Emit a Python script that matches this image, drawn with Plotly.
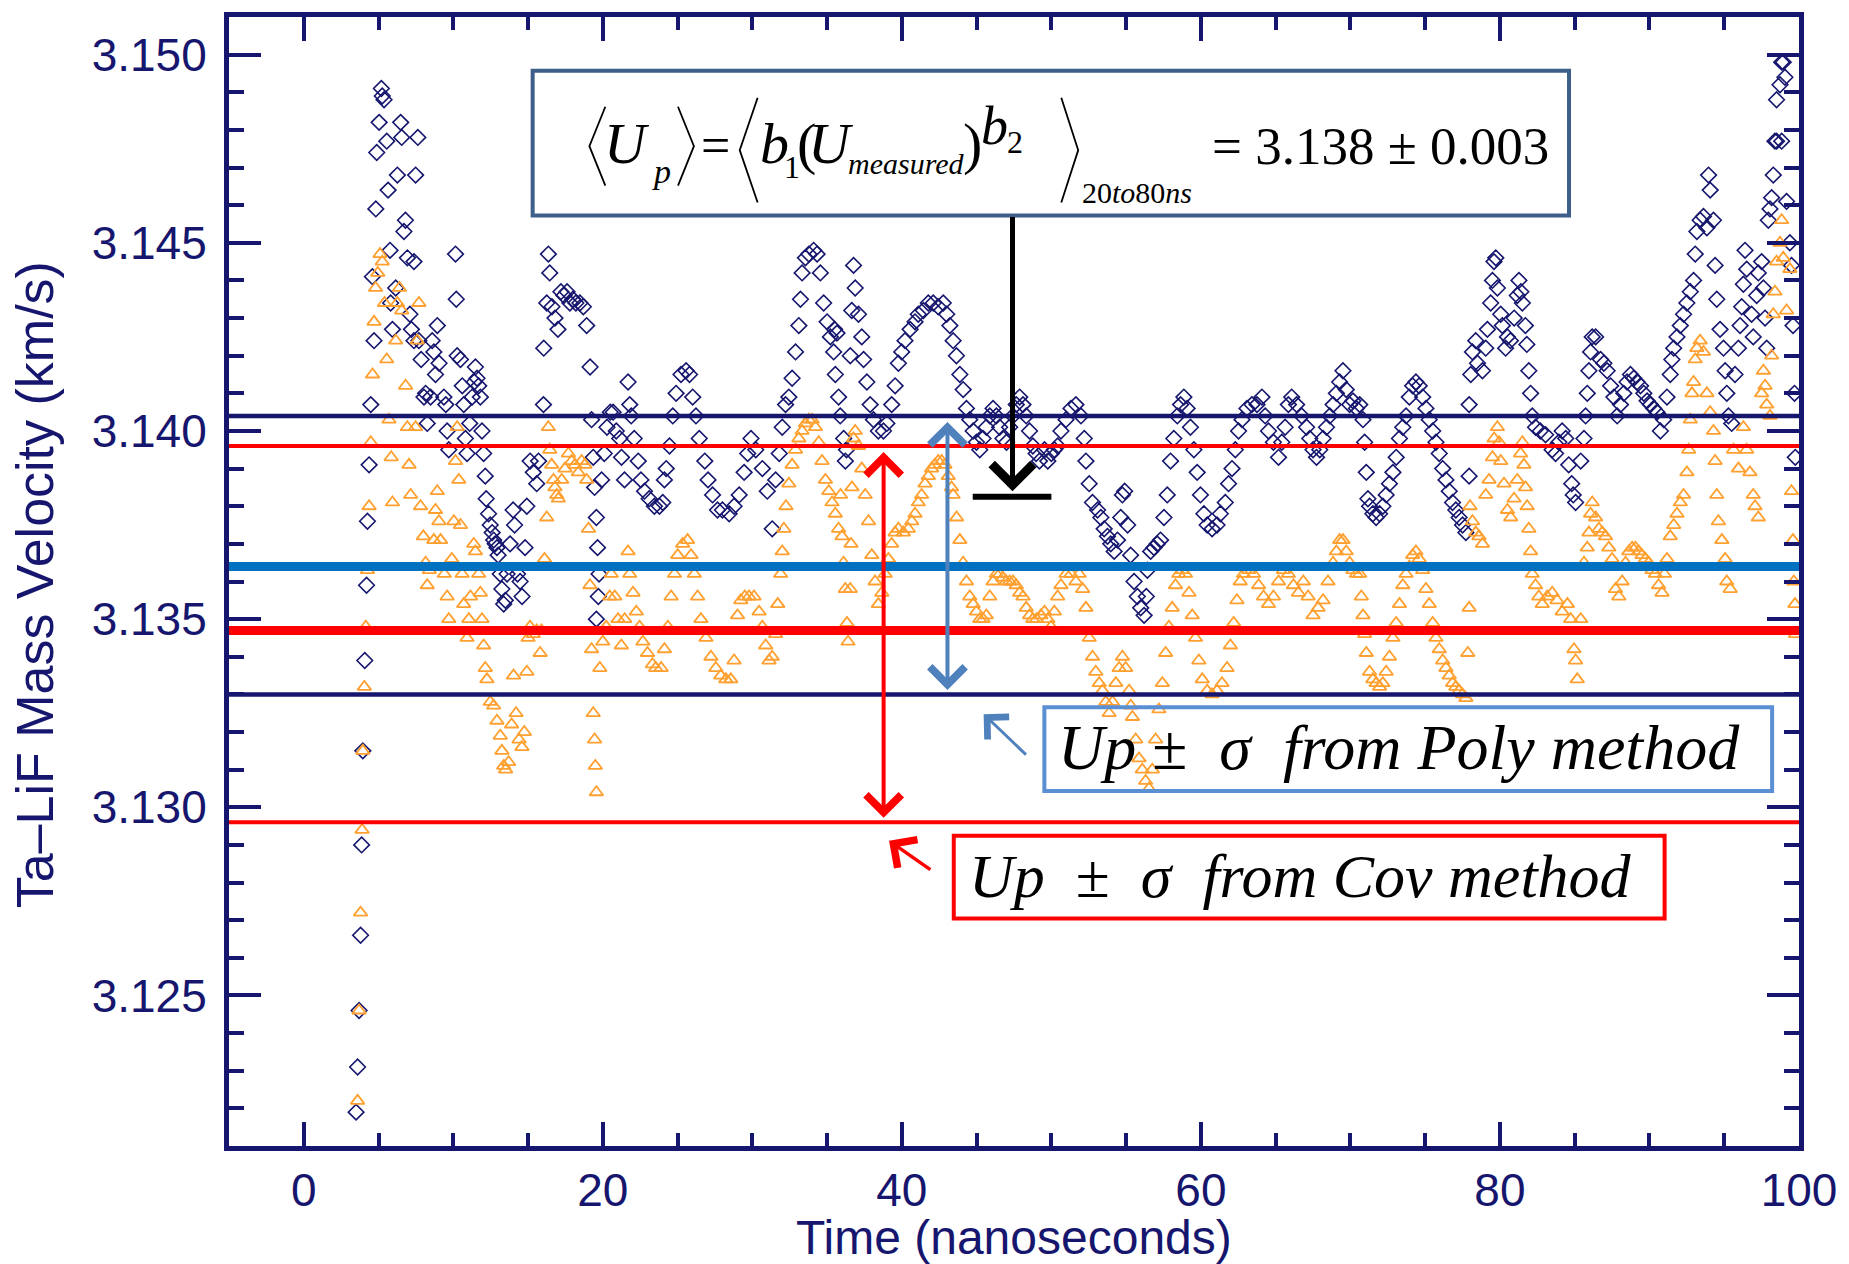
import plotly.graph_objects as go

# ---------------- data (time in ns, velocity in km/s) ----------------
navy_a = [(3.50, 3.1219), (3.60, 3.1231), (3.70, 3.1246), (3.80, 3.1266), (3.87, 3.1290), (3.95, 3.1315),
          (4.08, 3.1339), (4.20, 3.1359), (4.26, 3.1376), (4.37, 3.1391), (4.48, 3.1407), (4.59, 3.1441),
          (4.70, 3.1424), (4.82, 3.1459), (4.88, 3.1474), (5.04, 3.1482), (5.19, 3.1491), (5.25, 3.1489),
          (5.37, 3.1488), (5.55, 3.1477), (5.64, 3.1464), (5.77, 3.1448), (5.81, 3.1434), (5.93, 3.1427),
          (6.15, 3.1438), (6.26, 3.1468), (6.48, 3.1482), (6.55, 3.1478), (6.70, 3.1453), (6.80, 3.1456),
          (6.93, 3.1446), (7.10, 3.1431), (7.20, 3.1427), (7.37, 3.1445), (7.48, 3.1468), (7.63, 3.1478),
          (7.37, 3.1424), (7.70, 3.1424), (7.85, 3.1419), (8.04, 3.1409), (8.15, 3.1410), (8.26, 3.1402),
          (8.48, 3.1409), (8.59, 3.1424), (8.70, 3.1421), (8.81, 3.1415), (8.93, 3.1428), (9.05, 3.1418),
          (9.37, 3.1409), (9.50, 3.1407), (9.59, 3.1400), (9.70, 3.1395), (10.15, 3.1447), (10.20, 3.1435),
          (10.26, 3.1420), (10.48, 3.1419), (10.60, 3.1412), (10.70, 3.1407), (10.81, 3.1398), (10.92, 3.1394),
          (11.10, 3.1402), (11.26, 3.1409), (11.40, 3.1413), (11.48, 3.1417), (11.59, 3.1414), (11.70, 3.1412),
          (11.81, 3.1409), (11.92, 3.1400), (12.03, 3.1394), (12.14, 3.1388), (12.20, 3.1382), (12.36, 3.1378),
          (12.47, 3.1375), (12.60, 3.1373), (12.70, 3.1371), (12.80, 3.1370), (12.92, 3.1369), (13.00, 3.1367),
          (13.14, 3.1362), (13.25, 3.1358), (13.37, 3.1354), (13.48, 3.1355)]
navy_b = [(13.60, 3.1362), (13.80, 3.1370), (14.00, 3.1379), (14.10, 3.1375), (14.30, 3.1362), (14.47, 3.1360),
          (14.60, 3.1356), (14.80, 3.1369), (14.92, 3.1380), (15.14, 3.1392), (15.35, 3.1389), (15.58, 3.1386),
          (15.70, 3.1392), (16.03, 3.1407), (16.05, 3.1422), (16.25, 3.1434), (16.36, 3.1447), (16.45, 3.1442),
          (16.60, 3.1433), (16.80, 3.1430), (17.00, 3.1427), (17.20, 3.1437), (17.40, 3.1436), (17.61, 3.1437),
          (17.80, 3.1434), (18.00, 3.1435), (18.20, 3.1434), (18.47, 3.1434), (18.70, 3.1433), (18.92, 3.1428),
          (19.15, 3.1417), (19.25, 3.1403), (19.36, 3.1393), (19.45, 3.1385), (19.57, 3.1377), (19.65, 3.1369),
          (19.75, 3.1362), (19.70, 3.1356), (19.57, 3.1350), (19.92, 3.1387), (20.10, 3.1394), (20.28, 3.1401),
          (20.50, 3.1405), (20.69, 3.1405), (20.90, 3.1400), (21.13, 3.1398), (21.25, 3.1393), (21.45, 3.1387),
          (21.69, 3.1413), (21.80, 3.1407), (21.90, 3.1404), (22.10, 3.1398), (22.37, 3.1392), (22.55, 3.1387),
          (22.79, 3.1384), (23.10, 3.1382), (23.45, 3.1380), (23.79, 3.1380), (24.01, 3.1381), (24.12, 3.1387),
          (24.24, 3.1390), (24.46, 3.1396), (24.68, 3.1404), (24.90, 3.1410), (25.23, 3.1415), (25.57, 3.1416),
          (25.80, 3.1415), (26.01, 3.1409), (26.23, 3.1404), (26.45, 3.1398), (26.82, 3.1392), (27.04, 3.1387),
          (27.34, 3.1383), (27.67, 3.1379), (28.00, 3.1379), (28.45, 3.1378), (28.78, 3.1380), (29.12, 3.1383),
          (29.45, 3.1389), (29.69, 3.1394), (29.91, 3.1398), (30.23, 3.1395), (30.67, 3.1390), (31.00, 3.1384)]
navy_c = [(31.33, 3.1374), (31.56, 3.1387), (31.80, 3.1394), (32.00, 3.1401), (32.22, 3.1407), (32.44, 3.1409),
          (32.66, 3.1414), (32.89, 3.1421), (33.11, 3.1428), (33.22, 3.1435), (33.33, 3.1442), (33.55, 3.1446),
          (33.78, 3.1447), (34.10, 3.1448), (34.33, 3.1447), (34.55, 3.1442), (34.77, 3.1434), (35.00, 3.1429),
          (35.22, 3.1425), (35.44, 3.1421), (35.55, 3.1415), (35.77, 3.1409), (35.88, 3.1404), (36.11, 3.1398),
          (36.22, 3.1392), (36.30, 3.1395), (35.50, 3.1427), (35.66, 3.1426), (36.55, 3.1420), (36.65, 3.1432),
          (36.77, 3.1444), (36.88, 3.1438), (37.10, 3.1431), (37.32, 3.1425), (37.44, 3.1419), (37.66, 3.1413),
          (37.88, 3.1407), (38.10, 3.1403), (38.43, 3.1400), (38.77, 3.1400), (39.00, 3.1402), (39.32, 3.1407),
          (39.55, 3.1412), (39.77, 3.1418), (39.99, 3.1421), (40.21, 3.1424), (40.55, 3.1427), (40.88, 3.1429),
          (41.10, 3.1431), (41.44, 3.1432), (41.77, 3.1434), (42.10, 3.1434), (42.43, 3.1433), (42.77, 3.1434),
          (43.00, 3.1431), (43.21, 3.1428), (43.43, 3.1424), (43.65, 3.1420), (43.88, 3.1415), (44.10, 3.1411),
          (44.32, 3.1406), (44.54, 3.1403), (44.77, 3.1400), (44.99, 3.1397), (45.21, 3.1395), (45.43, 3.1398),
          (45.65, 3.1401), (45.88, 3.1404), (46.10, 3.1406), (46.32, 3.1404), (46.54, 3.1401), (46.76, 3.1398),
          (47.00, 3.1397), (47.21, 3.1401), (47.43, 3.1404), (47.65, 3.1407), (47.88, 3.1409), (48.10, 3.1407),
          (48.32, 3.1404), (48.54, 3.1400), (48.76, 3.1396), (48.98, 3.1394), (49.20, 3.1392)]
navy_d = [(49.54, 3.1395), (49.76, 3.1392), (50.00, 3.1394), (50.20, 3.1395), (50.42, 3.1396), (50.64, 3.1400),
          (50.98, 3.1403), (51.31, 3.1406), (51.64, 3.1407), (51.98, 3.1404), (52.20, 3.1398), (52.31, 3.1392),
          (52.53, 3.1386), (52.75, 3.1381), (53.09, 3.1379), (53.31, 3.1377), (53.53, 3.1374), (53.75, 3.1372),
          (53.97, 3.1370), (54.20, 3.1368), (54.42, 3.1371), (54.64, 3.1377), (54.75, 3.1383), (54.90, 3.1384),
          (55.10, 3.1375), (55.30, 3.1367), (55.53, 3.1360), (55.75, 3.1356), (55.97, 3.1353), (56.20, 3.1351),
          (56.35, 3.1356), (56.42, 3.1363), (56.64, 3.1368), (56.86, 3.1369), (57.08, 3.1370), (57.30, 3.1371),
          (57.53, 3.1377), (57.75, 3.1383), (57.97, 3.1392), (58.19, 3.1398), (58.42, 3.1404), (58.64, 3.1407),
          (58.86, 3.1409), (59.08, 3.1406), (59.30, 3.1401), (59.53, 3.1395), (59.75, 3.1389), (59.97, 3.1383),
          (60.20, 3.1378), (60.42, 3.1375), (60.75, 3.1374), (61.08, 3.1375), (61.30, 3.1378), (61.63, 3.1381),
          (61.85, 3.1386), (62.08, 3.1390), (62.30, 3.1395), (62.52, 3.1400), (62.75, 3.1403), (63.08, 3.1406),
          (63.41, 3.1407), (63.75, 3.1407), (64.08, 3.1409), (64.30, 3.1404), (64.52, 3.1400), (64.85, 3.1397),
          (65.19, 3.1393), (65.41, 3.1397), (65.63, 3.1401), (65.85, 3.1407), (66.07, 3.1409), (66.40, 3.1407),
          (66.74, 3.1404), (67.07, 3.1401)]
navy_e = [(67.28, 3.1398), (67.50, 3.1395), (67.73, 3.1393), (67.95, 3.1395), (68.17, 3.1398), (68.40, 3.1401),
          (68.62, 3.1404), (68.84, 3.1407), (69.06, 3.1410), (69.28, 3.1413), (69.50, 3.1416), (69.72, 3.1411),
          (69.95, 3.1407), (70.17, 3.1408), (70.40, 3.1406), (70.62, 3.1407), (70.84, 3.1403), (70.95, 3.1397),
          (71.06, 3.1389), (71.17, 3.1382), (71.28, 3.1380), (71.50, 3.1378), (71.72, 3.1377), (71.95, 3.1378),
          (72.17, 3.1380), (72.39, 3.1383), (72.61, 3.1386), (72.84, 3.1389), (73.06, 3.1393), (73.28, 3.1398),
          (73.50, 3.1401), (73.72, 3.1404), (73.94, 3.1409), (74.16, 3.1412), (74.38, 3.1413), (74.60, 3.1412),
          (74.83, 3.1409), (75.05, 3.1406), (75.27, 3.1403), (75.50, 3.1400), (75.72, 3.1397), (75.94, 3.1394),
          (76.17, 3.1390), (76.39, 3.1387), (76.61, 3.1384), (76.83, 3.1381), (77.05, 3.1379), (77.27, 3.1377),
          (77.50, 3.1375), (77.72, 3.1373), (77.94, 3.1388), (77.94, 3.1407), (78.05, 3.1415), (78.16, 3.1421),
          (78.38, 3.1424), (78.50, 3.1418), (78.83, 3.1416), (79.05, 3.1422), (79.16, 3.1427), (79.38, 3.1434),
          (79.50, 3.1440), (79.60, 3.1445), (79.72, 3.1446), (79.83, 3.1438), (80.05, 3.1431), (80.16, 3.1428),
          (80.38, 3.1422), (80.50, 3.1425), (80.70, 3.1424), (80.95, 3.1430), (81.16, 3.1436), (81.27, 3.1440),
          (81.40, 3.1437), (81.50, 3.1434), (81.70, 3.1428), (81.80, 3.1423), (81.93, 3.1416), (82.05, 3.1410),
          (82.16, 3.1404), (82.38, 3.1401), (82.70, 3.1400), (83.05, 3.1399), (83.49, 3.1395), (83.72, 3.1394),
          (83.94, 3.1397), (84.16, 3.1400), (84.40, 3.1398), (84.60, 3.1391), (84.80, 3.1386), (84.90, 3.1383),
          (85.06, 3.1381)]
navy_f = [(85.40, 3.1392), (85.62, 3.1398), (85.73, 3.1404), (85.84, 3.1410), (85.95, 3.1416), (86.06, 3.1421),
          (86.17, 3.1425), (86.40, 3.1425), (86.73, 3.1419), (86.95, 3.1418), (87.17, 3.1416), (87.40, 3.1412),
          (87.62, 3.1409), (87.84, 3.1404), (88.06, 3.1407), (88.28, 3.1410), (88.50, 3.1413), (88.73, 3.1415),
          (88.95, 3.1414), (89.17, 3.1413), (89.40, 3.1412), (89.62, 3.1410), (89.84, 3.1408), (90.06, 3.1407),
          (90.28, 3.1406), (90.50, 3.1405), (90.73, 3.1400), (90.95, 3.1403), (91.17, 3.1409), (91.39, 3.1415),
          (91.50, 3.1419), (91.62, 3.1422), (91.84, 3.1425), (92.06, 3.1428), (92.28, 3.1431), (92.50, 3.1434),
          (92.73, 3.1437), (92.95, 3.1440), (93.06, 3.1447), (93.17, 3.1453), (93.39, 3.1456), (93.61, 3.1457),
          (93.84, 3.1454), (93.95, 3.1468), (94.06, 3.1464), (94.28, 3.1456), (94.39, 3.1444), (94.50, 3.1435),
          (94.72, 3.1427), (94.95, 3.1422), (95.06, 3.1416), (95.17, 3.1410), (95.28, 3.1404), (95.50, 3.1402),
          (95.72, 3.1415), (95.95, 3.1422), (96.06, 3.1428), (96.17, 3.1433), (96.28, 3.1439), (96.39, 3.1448),
          (96.50, 3.1443), (96.83, 3.1431), (96.94, 3.1425), (97.17, 3.1436), (97.28, 3.1442), (97.50, 3.1445),
          (97.62, 3.1438), (97.73, 3.1430), (97.84, 3.1422), (97.95, 3.1456), (98.06, 3.1459), (98.17, 3.1462),
          (98.28, 3.1468), (98.39, 3.1477), (98.50, 3.1488), (98.73, 3.1492), (98.84, 3.1498), (98.95, 3.1498),
          (99.06, 3.1494), (98.50, 3.1477), (98.84, 3.1477), (99.17, 3.1461), (99.39, 3.1450), (99.50, 3.1444),
          (99.60, 3.1428), (99.70, 3.1410), (99.75, 3.1393)]

orange_a = [(3.60, 3.1222), (3.70, 3.1246), (3.80, 3.1272), (3.90, 3.1294), (3.95, 3.1315), (4.05, 3.1332),
            (4.15, 3.1348), (4.26, 3.1363), (4.37, 3.1380), (4.48, 3.1397), (4.60, 3.1415), (4.70, 3.1429),
            (4.80, 3.1438), (4.95, 3.1442), (5.10, 3.1447), (5.25, 3.1445), (5.40, 3.1434), (5.55, 3.1419),
            (5.70, 3.1403), (5.85, 3.1393), (5.93, 3.1381), (6.15, 3.1424), (6.26, 3.1434), (6.40, 3.1438),
            (6.55, 3.1432), (6.81, 3.1412), (6.93, 3.1401), (7.04, 3.1391), (7.15, 3.1383), (7.48, 3.1401),
            (7.59, 3.1424), (7.70, 3.1434), (7.81, 3.1380), (8.00, 3.1372), (8.15, 3.1365), (8.26, 3.1359),
            (8.40, 3.1363), (8.70, 3.1371), (8.81, 3.1379), (8.93, 3.1384), (9.04, 3.1376), (9.15, 3.1371),
            (9.40, 3.1362), (9.59, 3.1356), (9.70, 3.1350), (9.90, 3.1366), (10.04, 3.1376), (10.15, 3.1392),
            (10.26, 3.1401), (10.37, 3.1387), (10.48, 3.1375), (10.59, 3.1362), (10.70, 3.1354), (10.92, 3.1345),
            (11.04, 3.1350), (11.15, 3.1356), (11.37, 3.1370), (11.48, 3.1368), (11.70, 3.1362), (11.81, 3.1357),
            (11.92, 3.1350), (12.03, 3.1343), (12.14, 3.1337), (12.25, 3.1334), (12.47, 3.1328), (12.70, 3.1327),
            (12.92, 3.1323), (13.14, 3.1319), (13.25, 3.1315), (13.37, 3.1311)]
orange_b = [(13.50, 3.1310), (13.70, 3.1312), (13.90, 3.1322), (14.03, 3.1335), (14.20, 3.1325), (14.40, 3.1318),
            (14.59, 3.1316), (14.75, 3.1320), (14.92, 3.1336), (15.00, 3.1345), (15.13, 3.1348), (15.35, 3.1346),
            (15.58, 3.1347), (15.81, 3.1341), (15.90, 3.1347), (16.10, 3.1366), (16.25, 3.1377), (16.36, 3.1401),
            (16.45, 3.1395), (16.58, 3.1391), (16.70, 3.1387), (16.80, 3.1385), (16.92, 3.1383), (17.03, 3.1382),
            (17.25, 3.1387), (17.47, 3.1390), (17.70, 3.1394), (17.92, 3.1392), (18.14, 3.1391), (18.36, 3.1389),
            (18.58, 3.1392), (18.80, 3.1391), (18.92, 3.1387), (19.04, 3.1374), (19.14, 3.1359), (19.25, 3.1342),
            (19.36, 3.1325), (19.45, 3.1318), (19.50, 3.1311), (19.57, 3.1304), (19.80, 3.1337), (20.00, 3.1344),
            (20.23, 3.1348), (20.46, 3.1356), (20.57, 3.1362), (20.80, 3.1356), (21.02, 3.1350), (21.24, 3.1343),
            (21.46, 3.1350), (21.69, 3.1368), (21.80, 3.1362), (22.02, 3.1357), (22.24, 3.1352), (22.46, 3.1348),
            (22.68, 3.1344), (22.99, 3.1341), (23.32, 3.1338), (23.54, 3.1337), (23.90, 3.1337), (24.12, 3.1342),
            (24.35, 3.1348), (24.57, 3.1356), (24.79, 3.1362), (25.01, 3.1367), (25.34, 3.1370), (25.67, 3.1371),
            (25.90, 3.1367), (26.12, 3.1362), (26.34, 3.1356), (26.56, 3.1350), (26.90, 3.1345), (27.23, 3.1340),
            (27.56, 3.1337), (27.89, 3.1335), (28.23, 3.1334), (28.56, 3.1334), (28.78, 3.1339), (29.01, 3.1351),
            (29.23, 3.1355), (29.50, 3.1356), (29.78, 3.1356), (30.11, 3.1356), (30.45, 3.1352), (30.67, 3.1348),
            (30.89, 3.1343), (31.12, 3.1339)]
orange_c = [(31.33, 3.1340), (31.56, 3.1346), (31.70, 3.1354), (31.89, 3.1362), (32.00, 3.1368), (32.11, 3.1374),
            (32.25, 3.1380), (32.44, 3.1386), (32.66, 3.1391), (32.89, 3.1395), (33.11, 3.1398), (33.33, 3.1400),
            (33.55, 3.1402), (33.78, 3.1403), (34.00, 3.1403), (34.22, 3.1401), (34.44, 3.1397), (34.66, 3.1392),
            (34.89, 3.1387), (35.11, 3.1384), (35.33, 3.1381), (35.55, 3.1378), (35.77, 3.1374), (35.90, 3.1383),
            (36.00, 3.1372), (36.10, 3.1365), (36.22, 3.1358), (36.33, 3.1349), (36.40, 3.1344), (36.55, 3.1358),
            (36.60, 3.1370), (36.66, 3.1385), (36.77, 3.1398), (36.88, 3.1400), (37.10, 3.1396), (37.32, 3.1390),
            (37.55, 3.1383), (37.77, 3.1376), (37.99, 3.1367), (38.21, 3.1360), (38.43, 3.1354), (38.66, 3.1357),
            (38.88, 3.1362), (39.10, 3.1366), (39.32, 3.1370), (39.55, 3.1373), (39.77, 3.1374), (40.10, 3.1373),
            (40.43, 3.1374), (40.66, 3.1376), (40.88, 3.1378), (41.10, 3.1381), (41.32, 3.1383), (41.55, 3.1386),
            (41.77, 3.1388), (41.99, 3.1390), (42.21, 3.1391), (42.43, 3.1392), (42.66, 3.1392), (42.88, 3.1391),
            (43.10, 3.1388), (43.32, 3.1385), (43.43, 3.1383), (43.66, 3.1377), (43.88, 3.1371), (44.10, 3.1365),
            (44.32, 3.1360), (44.54, 3.1356), (44.77, 3.1354), (44.99, 3.1352), (45.21, 3.1350), (45.43, 3.1350),
            (45.65, 3.1351), (45.88, 3.1356), (46.10, 3.1360), (46.32, 3.1362), (46.54, 3.1362), (46.76, 3.1361),
            (46.99, 3.1360), (47.21, 3.1360), (47.43, 3.1360), (47.65, 3.1359), (47.88, 3.1357), (48.10, 3.1356),
            (48.32, 3.1353), (48.54, 3.1351), (48.76, 3.1350)]
orange_d = [(49.00, 3.1350), (49.30, 3.1351), (49.54, 3.1352), (49.76, 3.1350), (49.98, 3.1348), (50.20, 3.1352),
            (50.42, 3.1356), (50.64, 3.1359), (50.98, 3.1362), (51.31, 3.1362), (51.64, 3.1360), (51.86, 3.1362),
            (52.09, 3.1358), (52.31, 3.1353), (52.53, 3.1345), (52.75, 3.1340), (52.97, 3.1336), (53.20, 3.1333),
            (53.42, 3.1331), (53.64, 3.1328), (53.86, 3.1325), (54.09, 3.1328), (54.31, 3.1333), (54.53, 3.1337),
            (54.75, 3.1340), (54.97, 3.1337), (55.20, 3.1331), (55.31, 3.1327), (55.42, 3.1324), (55.64, 3.1318),
            (55.86, 3.1313), (56.08, 3.1310), (56.30, 3.1307), (56.53, 3.1305), (56.75, 3.1310), (56.97, 3.1318),
            (57.19, 3.1326), (57.42, 3.1333), (57.64, 3.1341), (57.86, 3.1348), (58.08, 3.1353), (58.30, 3.1359),
            (58.52, 3.1362), (58.75, 3.1363), (58.97, 3.1362), (59.20, 3.1357), (59.42, 3.1351), (59.64, 3.1345),
            (59.86, 3.1339), (60.09, 3.1334), (60.42, 3.1331), (60.75, 3.1330), (61.08, 3.1331), (61.41, 3.1333),
            (61.75, 3.1337), (61.97, 3.1343), (62.19, 3.1349), (62.41, 3.1355), (62.63, 3.1360), (62.85, 3.1362),
            (63.19, 3.1363), (63.52, 3.1362), (63.86, 3.1359), (64.19, 3.1356), (64.52, 3.1354), (64.85, 3.1356),
            (65.19, 3.1360), (65.52, 3.1363), (65.85, 3.1362), (66.19, 3.1359), (66.52, 3.1357), (66.85, 3.1360)]
orange_e = [(67.17, 3.1356), (67.50, 3.1351), (67.84, 3.1353), (68.17, 3.1355), (68.50, 3.1360), (68.84, 3.1365),
            (69.06, 3.1368), (69.28, 3.1371), (69.50, 3.1371), (69.72, 3.1368), (69.95, 3.1365), (70.17, 3.1363),
            (70.40, 3.1362), (70.62, 3.1362), (70.73, 3.1356), (70.84, 3.1351), (70.95, 3.1346), (71.06, 3.1341),
            (71.28, 3.1336), (71.50, 3.1334), (71.72, 3.1333), (71.95, 3.1332), (72.17, 3.1333), (72.39, 3.1336),
            (72.61, 3.1340), (72.84, 3.1345), (73.06, 3.1349), (73.28, 3.1354), (73.50, 3.1359), (73.72, 3.1362),
            (73.94, 3.1364), (74.16, 3.1367), (74.38, 3.1368), (74.60, 3.1366), (74.83, 3.1363), (75.05, 3.1358),
            (75.27, 3.1354), (75.50, 3.1349), (75.72, 3.1345), (75.94, 3.1342), (76.17, 3.1339), (76.39, 3.1337),
            (76.61, 3.1335), (76.83, 3.1333), (77.05, 3.1332), (77.27, 3.1331), (77.50, 3.1330), (77.72, 3.1329),
            (77.85, 3.1341), (77.94, 3.1353), (78.00, 3.1380), (78.16, 3.1376), (78.38, 3.1373), (78.60, 3.1372),
            (78.83, 3.1370), (79.05, 3.1383), (79.27, 3.1387), (79.50, 3.1393), (79.61, 3.1398), (79.83, 3.1401),
            (79.95, 3.1397), (80.05, 3.1392), (80.27, 3.1386), (80.50, 3.1379), (80.72, 3.1377), (80.94, 3.1382),
            (81.16, 3.1387), (81.38, 3.1394), (81.50, 3.1397), (81.60, 3.1391), (81.71, 3.1385), (81.82, 3.1380),
            (81.93, 3.1374), (82.05, 3.1368), (82.16, 3.1362), (82.38, 3.1359), (82.60, 3.1356), (82.83, 3.1354),
            (83.16, 3.1356), (83.49, 3.1357), (83.82, 3.1355), (84.16, 3.1352), (84.51, 3.1354), (84.73, 3.1350),
            (84.95, 3.1342), (85.06, 3.1339), (85.17, 3.1334)]
orange_f = [(85.40, 3.1350), (85.62, 3.1365), (85.84, 3.1369), (85.95, 3.1373), (86.06, 3.1378), (86.17, 3.1381),
            (86.40, 3.1377), (86.62, 3.1374), (86.84, 3.1373), (87.06, 3.1372), (87.28, 3.1369), (87.50, 3.1366),
            (87.73, 3.1358), (87.95, 3.1356), (88.17, 3.1360), (88.40, 3.1365), (88.62, 3.1368), (88.84, 3.1369),
            (89.06, 3.1369), (89.28, 3.1368), (89.50, 3.1367), (89.73, 3.1366), (89.95, 3.1365), (90.17, 3.1363),
            (90.39, 3.1362), (90.61, 3.1359), (90.84, 3.1357), (91.00, 3.1362), (91.17, 3.1366), (91.39, 3.1372),
            (91.62, 3.1375), (91.84, 3.1378), (92.06, 3.1381), (92.28, 3.1383), (92.50, 3.1389), (92.62, 3.1395),
            (92.73, 3.1403), (92.84, 3.1410), (92.95, 3.1413), (93.06, 3.1419), (93.17, 3.1422), (93.39, 3.1424),
            (93.61, 3.1421), (93.84, 3.1410), (94.06, 3.1405), (94.28, 3.1400), (94.39, 3.1392), (94.50, 3.1383),
            (94.61, 3.1376), (94.84, 3.1371), (95.06, 3.1366), (95.17, 3.1360), (95.40, 3.1358), (95.62, 3.1395),
            (95.95, 3.1390), (96.28, 3.1401), (96.50, 3.1395), (96.72, 3.1389), (96.94, 3.1383), (97.06, 3.1380),
            (97.28, 3.1377), (97.50, 3.1410), (97.62, 3.1416), (97.73, 3.1412), (97.84, 3.1407), (98.06, 3.1404),
            (98.17, 3.1420), (98.28, 3.1431), (98.39, 3.1437), (98.50, 3.1445), (98.73, 3.1450), (98.84, 3.1456),
            (98.95, 3.1446), (99.17, 3.1432), (99.39, 3.1443), (99.50, 3.1384), (99.60, 3.1371), (99.65, 3.1360),
            (99.73, 3.1354), (99.76, 3.1346)]

x_tick_vals = [0, 20, 40, 60, 80, 100]
y_tick_vals = [3.125, 3.130, 3.135, 3.140, 3.145, 3.150]

poly_band = [3.1330, 3.1404]      # Up +/- sigma, poly method
poly_mean = 3.1364
cov_band = [3.1296, 3.1396]       # Up +/- sigma, cov method
cov_mean = 3.1347
result_value = 3.13825            # <Up> = 3.138
cov_arrow_t = 38.78
poly_arrow_t = 43.05
result_arrow_t = 47.40
result_bar_t = [44.74, 50.0]

# ---------------- styling ----------------
NAVY = "#16166e"
ORANGE = "#ffa030"
RED = "#ff0000"
BLUE = "#0070c0"
STEEL = "#4f81bd"
W, H = 1849, 1264
L, R, T, B = 229, 1806, 14, 1146
X_RANGE = [-5, 100]
Y_RANGE = [3.1210, 3.1510]


def px(x):
    return (x - L) / (R - L)


def py(y):
    return (B - y) / (B - T)


def pix_to_val(y):
    return Y_RANGE[1] - (y - T) / (B - T) * (Y_RANGE[1] - Y_RANGE[0])


def pix_to_t(x):
    return X_RANGE[0] + (x - L) / (R - L) * (X_RANGE[1] - X_RANGE[0])


navy = navy_a + navy_b + navy_c + navy_d + navy_e + navy_f
orange = orange_a + orange_b + orange_c + orange_d + orange_e + orange_f

fig = go.Figure()
fig.add_trace(go.Scatter(
    x=[p[0] for p in navy], y=[p[1] for p in navy], mode="markers",
    marker=dict(symbol="diamond-open", size=12, color=NAVY, line=dict(width=1.6, color=NAVY)),
    showlegend=False, hoverinfo="skip"))
fig.add_trace(go.Scatter(
    x=[p[0] for p in orange], y=[p[1] for p in orange], mode="markers",
    marker=dict(symbol="triangle-up-open", size=12, color=ORANGE, line=dict(width=1.8, color=ORANGE)),
    showlegend=False, hoverinfo="skip"))

shapes = []


def hline(yv, color, width):
    shapes.append(dict(type="line", xref="paper", yref="y", x0=0, x1=1, y0=yv, y1=yv,
                       line=dict(color=color, width=width), layer="above"))


hline(poly_band[1], NAVY, 4.5)
hline(cov_band[1], RED, 4)
hline(poly_mean, BLUE, 9)
hline(cov_mean, RED, 9)
hline(poly_band[0], NAVY, 4.5)
hline(cov_band[0], RED, 4)

# T bar of the result
shapes.append(dict(type="line", xref="x", yref="y", x0=result_bar_t[0], x1=result_bar_t[1],
                   y0=result_value, y1=result_value, line=dict(color="black", width=6), layer="above"))

# boxes
shapes.append(dict(type="rect", xref="paper", yref="paper", x0=px(534), x1=px(1575), y0=py(213), y1=py(68),
                   line=dict(color="#3e5f8a", width=4), fillcolor="rgba(0,0,0,0)", layer="above"))
shapes.append(dict(type="rect", xref="paper", yref="paper", x0=px(1048), x1=px(1779), y0=py(790), y1=py(706),
                   line=dict(color="#5b8fd4", width=4), fillcolor="rgba(0,0,0,0)", layer="above"))
shapes.append(dict(type="rect", xref="paper", yref="paper", x0=px(957), x1=px(1671), y0=py(918), y1=py(835),
                   line=dict(color=RED, width=4), fillcolor="rgba(0,0,0,0)", layer="above"))


def bracket(xo, xm, y0, y1):
    ym = (y0 + y1) / 2
    path = f"M {px(xo)},{py(y0)} L {px(xm)},{py(ym)} L {px(xo)},{py(y1)}"
    shapes.append(dict(type="path", xref="paper", yref="paper", path=path,
                       line=dict(color="black", width=1.8), layer="above"))


bracket(607, 591, 104, 183)
bracket(680, 696, 104, 183)
bracket(760, 742, 95, 200)
bracket(1065, 1082, 95, 200)

ann = []
SERIF = "Liberation Serif"


def txt(x, y, s, size, color="black", font=SERIF, xanchor="center"):
    ann.append(dict(xref="paper", yref="paper", x=px(x), y=py(y), text=s, showarrow=False,
                    xanchor=xanchor, yanchor="middle", font=dict(family=font, size=size, color=color)))


# formula
txt(629, 141, "<i>U</i>", 58)
txt(663, 169, "<i>p</i>", 34)
txt(718, 143, "=", 52)
txt(777, 141, "<i>b</i>", 58)
txt(795, 164, "1", 32)
txt(809, 141, "(", 58)
txt(834, 141, "<i>U</i>", 58)
txt(910, 161, "<i>measured</i>", 30)
txt(976, 141, ")", 58)
txt(998, 123, "<i>b</i>", 54)
txt(1019, 139, "2", 32)
txt(1141, 190, "20<i>to</i>80<i>ns</i>", 30)
txt(1386, 143, "= 3.138 ± 0.003", 53)

# method labels
nb = "\u00a0"
txt(1404, 746, f"<i>Up</i>{nb}±{nb}{nb}<i>σ{nb}{nb}from Poly method</i>", 64)
txt(1305, 875, f"<i>Up</i>{nb}{nb}±{nb}{nb}<i>σ{nb}{nb}from Cov method</i>", 62)

# axis titles
txt(1017, 1238, "Time (nanoseconds)", 48, color=NAVY, font="Liberation Sans")
ann.append(dict(xref="paper", yref="paper", x=px(35), y=py(583), text="Ta–LiF Mass Velocity (km/s)",
                textangle=-90, showarrow=False, xanchor="center", yanchor="middle",
                font=dict(family="Liberation Sans", size=52, color=NAVY)))

# footer (cut off by page edge)
txt(200, 1274, "LLNL-PRESS-655503", 24, color="#9a9a9a", font="Liberation Sans", xanchor="left")
txt(1745, 1274, "14", 24, color="#9a9a9a", font="Liberation Sans")


def arrow(xh, yh, xt, yt, color, width, both=False, size=1.1):
    d = dict(x=xh, y=yh, ax=xt, ay=yt, xref="x", yref="y", axref="x", ayref="y", text="",
             showarrow=True, arrowhead=4, arrowsize=size, arrowwidth=width, arrowcolor=color,
             standoff=0, startstandoff=0)
    if both:
        d.update(arrowside="end+start", startarrowhead=4, startarrowsize=size)
    ann.append(d)


arrow(cov_arrow_t, cov_band[0] + 0.00012, cov_arrow_t, cov_band[1] - 0.00012, RED, 4, both=True, size=1.7)
arrow(poly_arrow_t, poly_band[0] + 0.00012, poly_arrow_t, poly_band[1] - 0.00012, STEEL, 4, both=True, size=1.7)
arrow(result_arrow_t, result_value + 0.00015, result_arrow_t, pix_to_val(213), "black", 5, size=1.6)
arrow(pix_to_t(987), pix_to_val(713), pix_to_t(1031), pix_to_val(755), STEEL, 3, size=2.0)
arrow(pix_to_t(892), pix_to_val(840), pix_to_t(935), pix_to_val(870), RED, 3.5, size=1.9)

fig.update_layout(
    width=W, height=H, autosize=False,
    margin=dict(l=L, r=W - R, t=T, b=H - B, pad=0),
    paper_bgcolor="white", plot_bgcolor="white",
    shapes=shapes, annotations=ann, showlegend=False,
    xaxis=dict(range=X_RANGE, tickvals=x_tick_vals, ticktext=[str(v) for v in x_tick_vals],
               ticks="inside", ticklen=24, tickwidth=4, tickcolor=NAVY, mirror="allticks",
               showline=True, linewidth=5, linecolor=NAVY, showgrid=False, zeroline=False,
               tickfont=dict(family="Liberation Sans", size=46, color=NAVY), ticklabelstandoff=0,
               minor=dict(dtick=5, tick0=0, ticks="inside", ticklen=13, tickwidth=4, tickcolor=NAVY,
                          showgrid=False)),
    yaxis=dict(range=Y_RANGE, tickvals=y_tick_vals, ticktext=[f"{v:.3f}" for v in y_tick_vals],
               ticks="inside", ticklen=32, tickwidth=4, tickcolor=NAVY, mirror="allticks",
               showline=True, linewidth=5, linecolor=NAVY, showgrid=False, zeroline=False,
               tickfont=dict(family="Liberation Sans", size=46, color=NAVY), ticklabelstandoff=8,
               minor=dict(dtick=0.001, tick0=3.125, ticks="inside", ticklen=15, tickwidth=4, tickcolor=NAVY,
                          showgrid=False)),
)

fig.write_html("out.html", config={"displayModeBar": False},
               post_script="document.body.style.margin='0';document.body.style.overflow='hidden';")
